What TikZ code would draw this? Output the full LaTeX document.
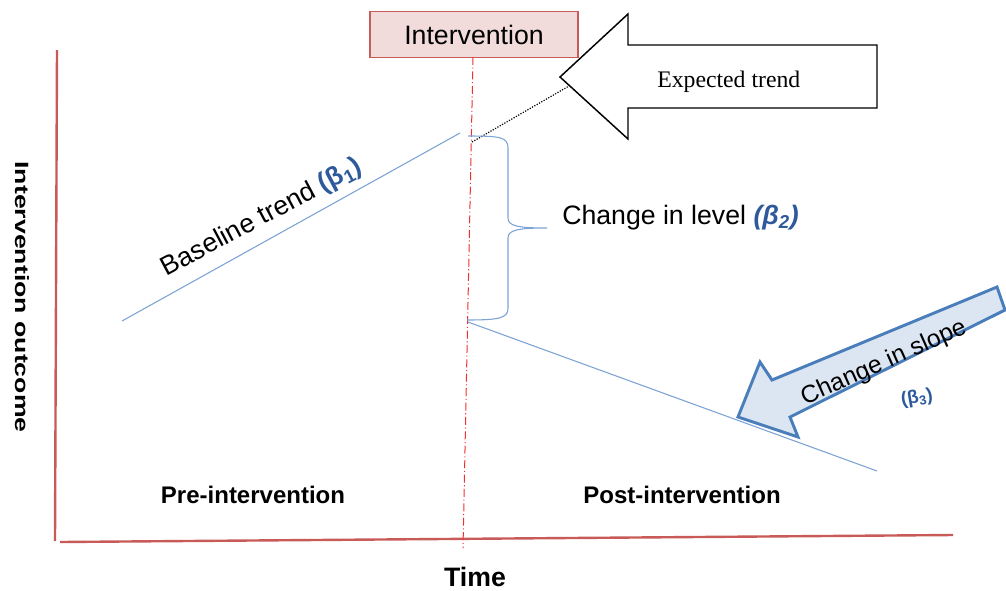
\documentclass[tikz,border=0pt]{standalone}
\usepackage{fontspec}
\setmainfont{Liberation Sans}
\newfontfamily\serifface{Liberation Serif}
\definecolor{axisred}{HTML}{C85A57}
\definecolor{cutred}{HTML}{F03030}
\definecolor{trendblue}{HTML}{7DA2D4}
\definecolor{betablue}{HTML}{2E5A9C}
\definecolor{boxpink}{HTML}{F2DCDB}
\definecolor{slopeedge}{HTML}{4A7EBB}
\definecolor{slopefill}{HTML}{DCE6F2}
% regression coefficient label: \coef{shape}{index}
\newcommand{\coef}[2]{{\color{betablue}\bfseries#1(β\textsubscript{#2})}}
\tikzset{
  axisline/.style={draw=axisred, line width=1.8pt},
  trendline/.style={draw=trendblue, line width=0.8pt},
  cutline/.style={draw=cutred, line width=0.75pt, dash pattern=on 6pt off 2pt on 0.8pt off 2pt},
  labeltext/.style={inner sep=0pt, font=\fontsize{20}{24}\selectfont},
  phasetext/.style={inner sep=0pt, font=\fontsize{18}{22}\selectfont\bfseries},
}
\begin{document}
\begin{tikzpicture}[x=0.75pt, y=-0.75pt]
\useasboundingbox (0,0) rectangle (1006,590);

% axes
\coordinate (ytop) at (57,50);
\coordinate (origin) at (55,541);
\coordinate (xleft) at (60,542);
\coordinate (xright) at (953,535);
\draw[axisline] (ytop) -- (origin);
\draw[axisline] (xleft) -- (xright);

% intervention marker
\node[draw=axisred, fill=boxpink, line width=0.9pt, minimum width=156pt, minimum height=34pt,
      inner sep=0pt, font=\fontsize{20}{24}\selectfont] (box) at (474,34.5) {Intervention};
\coordinate (cuttop) at (473,57);
\coordinate (cutbot) at (463,548);
\draw[cutline] (cuttop) -- (cutbot);

% expected trend arrow
\coordinate (etip) at (560,77);
\draw[black, line width=1.1pt, fill=white, line join=miter]
  (etip) -- (628,14) -- (628,45) -- (877,45) -- (877,108) -- (628,108) -- (628,139) -- cycle;
\node[inner sep=0pt, anchor=base west, font=\serifface\fontsize{17.8}{20}\selectfont] (expected) at (657,87) {Expected trend};
\coordinate (dotstart) at (472,142);
\coordinate (dotend) at (569,86);
\draw[black, line width=0.9pt, dash pattern=on 0.9pt off 1.1pt] (dotstart) -- (dotend);

% baseline trend
\coordinate (b0) at (122,321);
\coordinate (b1) at (460,133);
\draw[trendline] (b0) -- (b1);
\node[labeltext, rotate=28] (baseline) at (262,218) {Baseline trend \coef{}{1}};

% change in level brace
\coordinate (brtop) at (468,136);
\coordinate (brtip) at (547,228);
\coordinate (brbot) at (467,320);
\draw[trendline]
  (brtop) .. controls (500,136) and (508,137) .. (508,148)
  -- (508,218) .. controls (508,226) and (518,228) .. (brtip)
  .. controls (518,228) and (508,230) .. (508,238)
  -- (508,308) .. controls (508,318) and (500,320) .. (brbot);
\node[labeltext, anchor=base west] (level) at (562,224) {Change in level \coef{\itshape}{2}};

% change in slope arrow
\coordinate (stip) at (738,417);
\draw[draw=slopeedge, fill=slopefill, line width=2.2pt, line join=miter]
  (stip) -- (760,362) -- (772,380) -- (997,287) -- (1005,310) -- (790,417) -- (798,437) -- cycle;
\node[inner sep=0pt, rotate=24, font=\fontsize{18.5}{22}\selectfont] (slope) at (884,363) {Change in slope};
\node[inner sep=0pt, rotate=10, font=\fontsize{14}{16}\selectfont] (beta3) at (917,398) {\coef{}{3}};

% post-intervention trend
\coordinate (p0) at (468,322);
\coordinate (p1) at (877,471);
\draw[trendline] (p0) -- (p1);

% phase and axis labels
\node[phasetext, anchor=base] (pre) at (253,503) {Pre-intervention};
\node[phasetext, anchor=base] (post) at (682,503) {Post-intervention};
\node[inner sep=0pt, anchor=base, font=\fontsize{20}{24}\selectfont\bfseries] (time) at (475,586) {Time};
\node[inner sep=0pt, rotate=-90, font=\fontsize{20}{24}\selectfont\bfseries] (outcome) at (22,297)
  {\scalebox{1}[0.72]{Intervention outcome}};
\end{tikzpicture}
\end{document}
